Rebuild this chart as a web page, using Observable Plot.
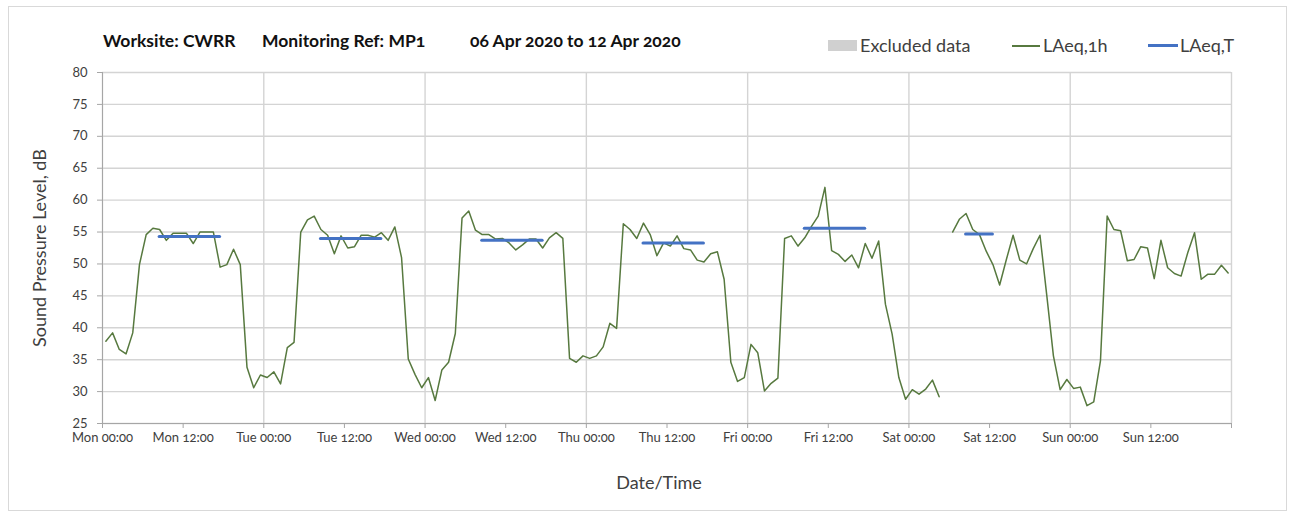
<!DOCTYPE html>
<html>
<head>
<meta charset="utf-8">
<script src="https://cdn.jsdelivr.net/npm/d3@7"></script>
<script src="https://cdn.jsdelivr.net/npm/@observablehq/plot@0.6"></script>
<style>
  body { margin: 0; background: #fff; font-family: Lato, "Open Sans", sans-serif; color: #404040; }
  #wrap { position: relative; width: 1292px; height: 517px; overflow: hidden; }
  #header { position: relative; height: 60px; }
  .t { position: absolute; top: 30px; font-weight: 700; font-size: 17.5px; color: #111; white-space: nowrap; font-variant-numeric: oldstyle-nums; line-height: 22px; }
  .lg { position: absolute; top: 34px; font-size: 18px; color: #404040; white-space: nowrap; font-variant-numeric: oldstyle-nums; line-height: 22px; }
  .sw { position: absolute; }
  #border { position: absolute; left: 8px; top: 6px; width: 1277px; height: 503px; border: 1px solid #d9d9d9; pointer-events: none; }
  #chart svg { display: block; font-variant-numeric: oldstyle-nums; }
</style>
</head>
<body>
<div id="wrap">
  <div id="border"></div>
  <div id="header">
    <span class="t" style="left:103px">Worksite: CWRR</span>
    <span class="t" style="left:262px">Monitoring Ref: MP1</span>
    <span class="t" style="left:470px">06 Apr 2020 to 12 Apr 2020</span>
    <div class="sw" style="left:828px;top:40px;width:29px;height:11px;background:#d0d0d0"></div>
    <span class="lg" style="left:860px">Excluded data</span>
    <div class="sw" style="left:1012px;top:45px;width:28px;height:1.5px;background:#57793f"></div>
    <span class="lg" style="left:1043px">LAeq,1h</span>
    <div class="sw" style="left:1148px;top:44px;width:30px;height:3px;background:#4472c4"></div>
    <span class="lg" style="left:1180px">LAeq,T</span>
  </div>
  <div id="chart"></div>
</div>
<script>
// Hourly LAeq,1h values (dB), index = hour of day (00:00-01:00 ... 23:00-24:00)
const dayNames = ["Mon", "Tue", "Wed", "Thu", "Fri", "Sat", "Sun"];
const monday    = [37.9, 39.2, 36.6, 35.9, 39.2, 49.9, 54.6, 55.6, 55.4, 53.7, 54.8, 54.8, 54.8, 53.2, 55.0, 55.0, 55.0, 49.5, 49.9, 52.3, 49.9, 33.8, 30.6, 32.6];
const tuesday   = [32.2, 33.1, 31.2, 36.9, 37.7, 55.0, 56.9, 57.5, 55.4, 54.5, 51.6, 54.4, 52.5, 52.7, 54.5, 54.5, 54.2, 54.9, 53.7, 55.8, 51.0, 35.1, 32.7, 30.6];
const wednesday = [32.2, 28.6, 33.4, 34.6, 39.1, 57.2, 58.3, 55.3, 54.6, 54.6, 53.9, 54.0, 53.3, 52.2, 53.0, 53.9, 53.9, 52.5, 54.1, 54.9, 54.0, 35.2, 34.6, 35.6];
const thursday  = [35.2, 35.6, 37.0, 40.7, 39.9, 56.3, 55.4, 54.0, 56.4, 54.6, 51.3, 53.3, 52.8, 54.4, 52.4, 52.2, 50.6, 50.3, 51.6, 51.9, 47.6, 34.6, 31.6, 32.2];
const friday    = [37.4, 36.1, 30.1, 31.3, 32.1, 54.0, 54.4, 52.8, 54.1, 55.9, 57.5, 62.0, 52.1, 51.5, 50.4, 51.4, 49.4, 53.2, 50.9, 53.6, 43.7, 39.0, 32.2, 28.8];
const saturday  = [30.3, 29.6, 30.4, 31.8, 29.2, null, 55.0, 57.0, 57.9, 55.4, 54.6, 52.0, 49.9, 46.7, 50.7, 54.5, 50.6, 50.0, 52.4, 54.5, 45.2, 35.6, 30.3, 31.9];
const sunday    = [30.5, 30.7, 27.8, 28.4, 34.8, 57.5, 55.4, 55.2, 50.5, 50.7, 52.7, 52.5, 47.7, 53.7, 49.4, 48.5, 48.1, 51.8, 54.9, 47.6, 48.4, 48.4, 49.8, 48.6];
const hourly = [monday, tuesday, wednesday, thursday, friday, saturday, sunday];

// LAeq,T over the assessment period of each day
const periodDays  = ["Mon", "Tue", "Wed", "Thu", "Fri", "Sat"];
const periodStart = [8, 8, 8, 8, 8, 8];       // hour
const periodEnd   = [18, 18, 18, 18, 18, 13]; // hour
const laeqT       = [54.3, 54.0, 53.7, 53.3, 55.6, 54.7];

const yTicks = [25, 30, 35, 40, 45, 50, 55, 60, 65, 70, 75, 80];

const t0 = Date.UTC(2020, 3, 6);
const H = 3600 * 1000;
const rows = [];
hourly.forEach((vals, d) => vals.forEach((v, h) => rows.push({time: new Date(t0 + (d * 24 + h + 0.5) * H), value: v})));
const periods = periodDays.map((name, i) => {
  const d = dayNames.indexOf(name);
  return {
    x1: new Date(t0 + (d * 24 + periodStart[i] + 0.5) * H),
    x2: new Date(t0 + (d * 24 + periodEnd[i] - 0.5) * H),
    value: laeqT[i]
  };
});
const domain = [new Date(t0), new Date(t0 + 7 * 24 * H)];
const dayTicks = d3.utcDay.range(domain[0], new Date(+domain[1] + 1));
const halfDayTicks = d3.utcHour.every(12).range(domain[0], new Date(+domain[1] + 1));
const xLabelTicks = halfDayTicks.slice(0, -1);

const grid = "#d4d4d4";
const axisCol = "#a6a6a6";

const plot = Plot.plot({
  width: 1292,
  height: 457,
  marginLeft: 102,
  marginRight: 61,
  marginTop: 12,
  marginBottom: 94,
  style: {fontFamily: "Lato, 'Open Sans', sans-serif", fontSize: "12.5px", color: "#404040", background: "transparent"},
  x: {type: "utc", domain},
  y: {domain: [25, 80]},
  marks: [
    Plot.gridY(yTicks, {stroke: grid, strokeOpacity: 1, strokeWidth: 1.4}),
    Plot.gridX(dayTicks, {stroke: grid, strokeOpacity: 1, strokeWidth: 1.4}),
    Plot.ruleX([domain[0]], {stroke: axisCol}),
    Plot.ruleY([25], {stroke: axisCol}),
    Plot.axisY(yTicks, {tickSize: 5, tickPadding: 10, stroke: axisCol, fill: "#404040", fontSize: 13, label: null}),
    Plot.axisX(halfDayTicks, {tickSize: 5, tickPadding: 0, stroke: axisCol, fill: "none", label: null, tickFormat: () => ""}),
    Plot.text(xLabelTicks, {x: d => d, frameAnchor: "bottom", dy: 18, text: d => d3.utcFormat("%a %H:%M")(d), fill: "#404040", fontSize: 13}),
    Plot.line(rows, {x: "time", y: "value", stroke: "#57793f", strokeWidth: 1.5}),
    Plot.ruleY(periods, {x1: "x1", x2: "x2", y: "value", stroke: "#4472c4", strokeWidth: 3, strokeLinecap: "round"}),
    Plot.text(["Date/Time"], {frameAnchor: "bottom", dy: 65, dx: -8, fontSize: 18, fill: "#404040"}),
    Plot.text(["Sound Pressure Level, dB"], {frameAnchor: "left", dx: -62, rotate: -90, textAnchor: "middle", fontSize: 18, fill: "#404040"})
  ]
});
document.getElementById("chart").appendChild(plot);
</script>
</body>
</html>
